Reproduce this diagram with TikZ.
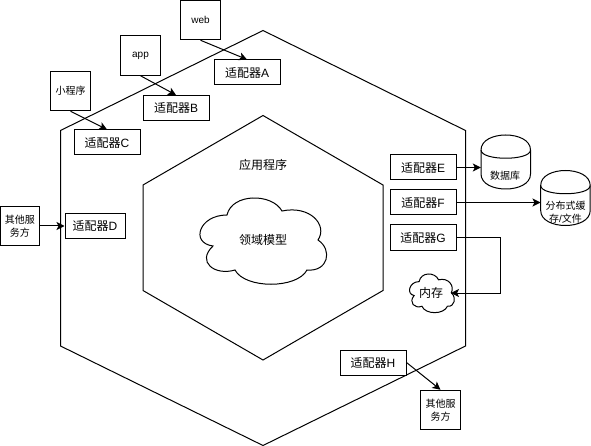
\documentclass[tikz,border=0pt]{standalone}
\usepackage{fontspec}
\setmainfont{Liberation Sans}
\newfontfamily\cjk{Noto Sans CJK SC}
\usetikzlibrary{arrows.meta}
\newcommand\zh[1]{{\cjk #1}}
\newcommand\cloudshape{(227,215)
  .. controls (199,215) and (190,243) .. (213,246)
  .. controls (196,262) and (215,276) .. (235,270)
  .. controls (245,289) and (297,289) .. (307,270)
  .. controls (328,272) and (333,250) .. (318,240)
  .. controls (328,225) and (310,205) .. (282,211)
  .. controls (272,193) and (232,193) .. (227,215) -- cycle}
\newcommand\cylshape[2]{(0,15) .. controls (0,-5) and (#1,-5) .. (#1,15) -- (#1,#2-15) .. controls (#1,#2+5) and (0,#2+5) .. (0,#2-15) -- cycle}
\newcommand\cylrim[1]{(0,15) .. controls (0,26) and (#1,26) .. (#1,15)}
\tikzset{
  line/.style={draw=black,line width=1pt},
  arr/.style={line,-{Stealth[length=8pt,width=8pt,inset=2pt]}},
  box/.style={line,fill=white,minimum width=#1,minimum height=25pt,inner sep=0pt,font=\fontsize{12}{14}\selectfont},
  src/.style={line,fill=white,minimum width=39.5pt,minimum height=39.5pt,inner sep=0pt,align=center,font=\fontsize{10}{13}\selectfont},
  lab/.style={inner sep=0pt,align=center,font=\fontsize{12}{14}\selectfont},
  small/.style={inner sep=0pt,align=center,font=\fontsize{10}{13}\selectfont},
  anchorbox/.style={inner sep=0pt,minimum width=#1},
}
\begin{document}
\begin{tikzpicture}[x=1pt,y=-1pt]
\useasboundingbox (0,0) rectangle (591,446);
\fill[white] (0,0) rectangle (591,446);
% hexagons
\draw[line] (263,30.5) -- (465.5,130.5) -- (465.5,346) -- (263,445.5) -- (60.5,346) -- (60.5,130.5) -- cycle;
\draw[line] (263,115.5) -- (383,185) -- (383,290.5) -- (263,360) -- (143,290.5) -- (143,185) -- cycle;
% clouds
\draw[line] \cloudshape;
\begin{scope}[shift={(409,274)},xscale=.354,yscale=.448,shift={(-198.5,-198)}]
\draw[line] \cloudshape;
\end{scope}
\node[lab] (app) at (263,165) {\zh{应用程序}};
\node[lab] (dom) at (263,239.5) {\zh{领域模型}};
\node[lab] (mem) at (431,293) {\zh{内存}};
\coordinate (memin) at (451,293);
% boxes
\node[src] (web) at (200.5,20) {web};
\node[src] (appb) at (140.5,55.5) {app};
\node[src] (mini) at (70.5,91) {\zh{小程序}};
\node[src] (o1) at (20,226) {\zh{其他服}\\\zh{务方}};
\node[src] (o2) at (440.5,410) {\zh{其他服}\\\zh{务方}};
\node[box=66pt] (A) at (247,72.5) {\zh{适配器}A};
\node[box=66pt] (B) at (176,108) {\zh{适配器}B};
\node[box=66pt] (C) at (107,142.5) {\zh{适配器}C};
\node[box=60pt] (D) at (95,226) {\zh{适配器}D};
\node[box=66pt] (E) at (423,167.5) {\zh{适配器}E};
\node[box=66pt] (F) at (423,202.5) {\zh{适配器}F};
\node[box=66pt] (G) at (423,237.5) {\zh{适配器}G};
\node[box=66pt] (H) at (373,362.5) {\zh{适配器}H};
% cylinders
\begin{scope}[shift={(481,135)}]
\draw[line,fill=white] \cylshape{49.5}{54};
\draw[line] \cylrim{49.5};
\end{scope}
\begin{scope}[shift={(540.7,170.5)}]
\draw[line,fill=white] \cylshape{49.5}{55};
\draw[line] \cylrim{49.5};
\end{scope}
\node[anchorbox=49.5pt,minimum height=54pt] (db) at (505.75,162) {};
\node[anchorbox=49.5pt,minimum height=55pt] (ca) at (565.45,198) {};
\node[small] (dbt) at (505,175.5) {\zh{数据库}};
\node[small] (cat) at (565.5,212.5) {\zh{分布式缓}\\\zh{存}/\zh{文件}};
% connectors
\draw[arr] (web.south) -- (A.north);
\draw[arr] (appb.south) -- (B.north);
\draw[arr] (mini.south) -- (C.north);
\draw[arr] (o1.east) -- (D.west);
\draw[arr] (E.east) -- (E.east -| db.west);
\draw[arr] (F.east) -- (F.east -| ca.west);
\draw[arr] (G.east) -- (500,237.5) |- (memin);
\draw[arr] (H.east) -- (o2.north);
\end{tikzpicture}
\end{document}
